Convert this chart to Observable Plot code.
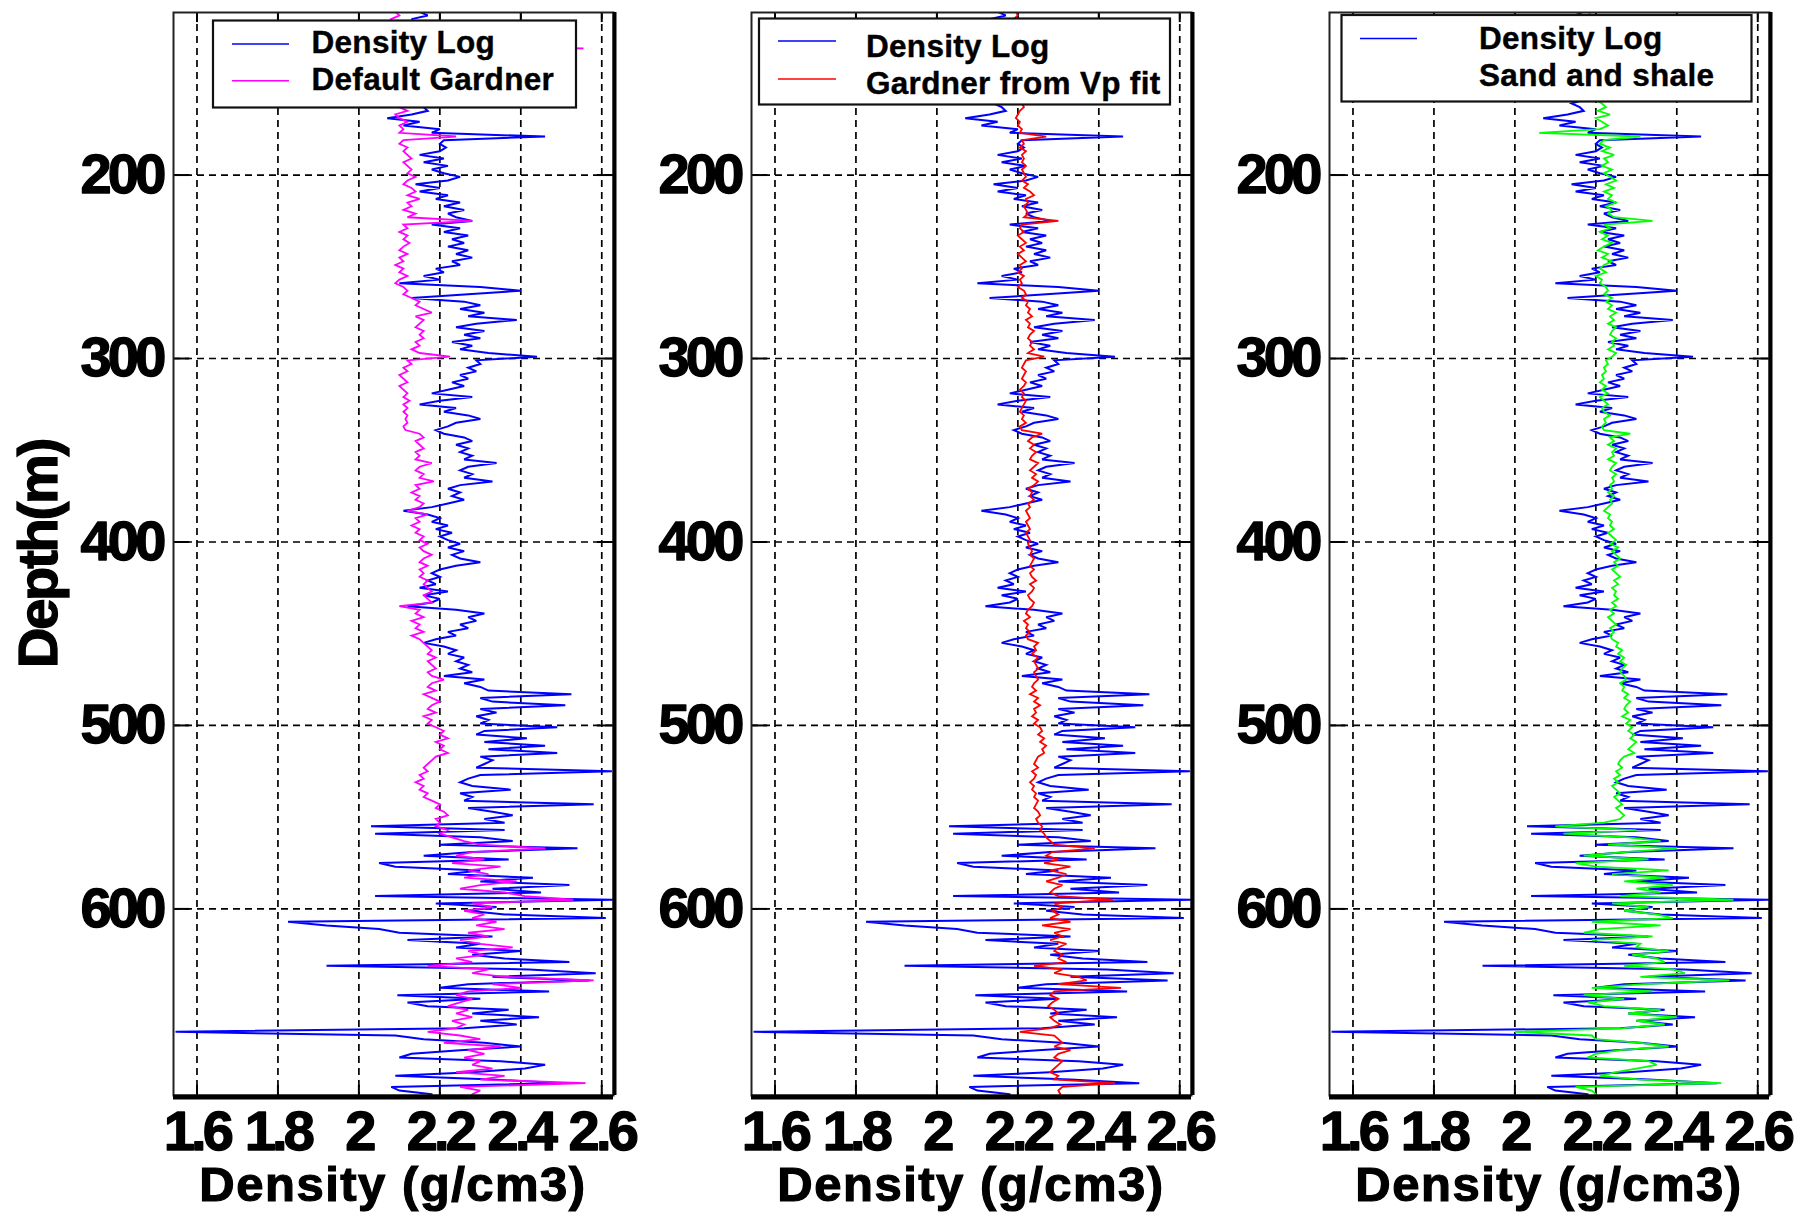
<!DOCTYPE html>
<html><head><meta charset="utf-8">
<script src="https://cdn.jsdelivr.net/npm/d3@7"></script>
<script src="https://cdn.jsdelivr.net/npm/@observablehq/plot@0.6"></script>
<style>
html,body{margin:0;padding:0;background:#fff;}
#wrap{position:relative;width:1808px;height:1212px;overflow:hidden;background:#fff;}
#wrap svg.panel{position:absolute;top:0;overflow:visible;background:transparent !important;max-width:none !important;}
#overlay{position:absolute;left:0;top:0;pointer-events:none;}
svg.panel g[aria-label$="tick label"] text{font-family:"Liberation Sans",Arial,sans-serif;font-weight:bold;font-size:56px;letter-spacing:-3.8px;fill:#000;stroke:#000;stroke-width:1.3px;stroke-linejoin:round;}
#overlay text{font-family:"Liberation Sans",Arial,sans-serif;font-weight:bold;fill:#000;}
</style>
</head><body>
<div id="wrap"></div>
<script>
// ---------------- data ----------------
const depth = d3.range(111, 702, 2);           // depth grid, m (111 ... 701)
const xTicks = [1.6, 1.8, 2, 2.2, 2.4, 2.6];
const yTicks = [200, 300, 400, 500, 600];
const xDomain = [1.542, 2.629];
const yDomain = [111.4, 701.7];

const densityLog = [
2.15,2.17,2.13,2.16,2.14,2.17,2.15,2.18,2.16,2.14,
2.17,2.15,2.16,2.13,2.17,2.15,2.18,2.14,2.16,2.15,
2.17,2.14,2.16,2.15,2.17,2.14,2.16,2.17,2.13,2.07,
2.15,2.11,2.20,2.18,2.46,2.21,2.20,2.215,2.20,2.15,
2.21,2.16,2.22,2.18,2.21,2.25,2.22,2.14,2.20,2.15,
2.22,2.19,2.25,2.21,2.26,2.22,2.24,2.28,2.18,2.25,
2.21,2.27,2.23,2.26,2.22,2.27,2.24,2.28,2.23,2.25,
2.19,2.21,2.16,2.20,2.10,2.30,2.40,2.27,2.13,2.26,
2.30,2.25,2.31,2.27,2.39,2.29,2.24,2.31,2.26,2.30,
2.23,2.28,2.25,2.32,2.44,2.29,2.30,2.27,2.29,2.25,
2.27,2.23,2.26,2.22,2.18,2.28,2.20,2.15,2.24,2.21,
2.27,2.30,2.24,2.22,2.19,2.21,2.26,2.28,2.24,2.27,
2.25,2.28,2.26,2.34,2.27,2.25,2.28,2.26,2.33,2.25,
2.22,2.25,2.23,2.26,2.22,2.18,2.11,2.17,2.20,2.18,
2.22,2.19,2.23,2.20,2.22,2.25,2.22,2.26,2.23,2.25,
2.30,2.24,2.20,2.18,2.20,2.17,2.19,2.15,2.22,2.16,
2.20,2.18,2.12,2.24,2.31,2.27,2.29,2.25,2.27,2.22,
2.24,2.19,2.16,2.21,2.24,2.22,2.26,2.24,2.27,2.25,
2.28,2.21,2.31,2.26,2.30,2.32,2.525,2.30,2.33,2.51,
2.30,2.34,2.29,2.32,2.30,2.49,2.31,2.29,2.415,2.31,
2.46,2.32,2.49,2.30,2.33,2.31,2.29,2.625,2.30,2.27,
2.25,2.28,2.375,2.25,2.28,2.26,2.58,2.27,2.33,2.38,
2.31,2.36,2.03,2.36,2.04,2.30,2.38,2.20,2.54,2.28,
2.16,2.37,2.05,2.09,2.30,2.22,2.43,2.30,2.52,2.33,
2.45,2.04,2.63,2.19,2.34,2.27,2.36,2.61,1.825,1.92,
2.05,2.10,2.33,2.12,2.30,2.24,2.40,2.28,2.36,2.52,
1.92,2.42,2.585,2.33,2.57,2.27,2.20,2.47,2.095,2.30,
2.12,2.17,2.37,2.28,2.445,2.30,2.39,2.26,1.547,2.09,
2.16,2.31,2.40,2.25,2.13,2.10,2.35,2.46,2.41,2.28,
2.09,2.33,2.50,2.08,2.10,2.18
];

const defaultGardner = [
2.09,2.10,2.08,2.10,2.09,2.11,2.10,2.09,2.11,2.10,
2.555,2.10,2.11,2.09,2.10,2.12,2.10,2.09,2.11,2.10,
2.12,2.10,2.09,2.11,2.10,2.11,2.10,2.12,2.09,2.10,
2.12,2.10,2.11,2.10,2.24,2.11,2.10,2.12,2.11,2.12,
2.13,2.11,2.12,2.13,2.12,2.14,2.12,2.11,2.13,2.14,
2.12,2.15,2.12,2.13,2.11,2.14,2.12,2.28,2.11,2.12,
2.10,2.12,2.11,2.125,2.11,2.10,2.12,2.10,2.11,2.09,
2.11,2.10,2.12,2.10,2.09,2.11,2.12,2.11,2.13,2.15,
2.14,2.16,2.18,2.14,2.16,2.15,2.14,2.16,2.15,2.16,
2.14,2.15,2.13,2.15,2.225,2.12,2.13,2.11,2.12,2.10,
2.11,2.12,2.10,2.11,2.12,2.11,2.125,2.11,2.12,2.11,
2.12,2.115,2.12,2.11,2.115,2.15,2.16,2.14,2.15,2.16,
2.14,2.15,2.14,2.18,2.15,2.14,2.16,2.15,2.185,2.14,
2.15,2.13,2.15,2.14,2.16,2.15,2.12,2.17,2.14,2.15,
2.13,2.15,2.14,2.16,2.15,2.17,2.15,2.16,2.18,2.16,
2.15,2.17,2.15,2.16,2.15,2.17,2.16,2.17,2.18,2.16,
2.17,2.18,2.10,2.15,2.14,2.16,2.13,2.15,2.14,2.16,
2.13,2.15,2.16,2.17,2.18,2.17,2.19,2.17,2.18,2.19,
2.17,2.18,2.21,2.18,2.17,2.19,2.16,2.18,2.20,2.18,
2.17,2.19,2.16,2.18,2.17,2.19,2.21,2.20,2.22,2.19,
2.21,2.20,2.22,2.19,2.18,2.17,2.16,2.17,2.15,2.16,
2.14,2.16,2.15,2.17,2.16,2.18,2.20,2.19,2.21,2.22,
2.19,2.20,2.19,2.22,2.20,2.23,2.26,2.30,2.46,2.28,
2.24,2.31,2.23,2.35,2.27,2.32,2.26,2.39,2.30,2.25,
2.36,2.41,2.53,2.28,2.33,2.26,2.31,2.28,2.34,2.29,
2.36,2.27,2.32,2.25,2.30,2.38,2.27,2.31,2.24,2.28,
2.17,2.32,2.28,2.36,2.58,2.33,2.40,2.27,2.24,2.28,
2.25,2.22,2.27,2.24,2.28,2.23,2.26,2.24,2.17,2.25,
2.30,2.21,2.35,2.27,2.31,2.26,2.30,2.28,2.33,2.24,
2.36,2.30,2.56,2.25,2.30,2.28
];

const gardnerVpFit = [
2.195,2.20,2.19,2.20,2.21,2.20,2.205,2.20,2.21,2.20,
2.205,2.21,2.20,2.21,2.205,2.20,2.21,2.205,2.21,2.20,
2.21,2.205,2.20,2.21,2.205,2.21,2.215,2.205,2.20,2.195,
2.205,2.20,2.21,2.205,2.27,2.21,2.215,2.205,2.22,2.21,
2.215,2.21,2.22,2.21,2.215,2.22,2.21,2.225,2.215,2.23,
2.24,2.22,2.225,2.215,2.22,2.225,2.215,2.30,2.21,2.205,
2.215,2.20,2.21,2.22,2.205,2.215,2.20,2.21,2.22,2.205,
2.21,2.20,2.215,2.205,2.21,2.20,2.215,2.22,2.21,2.225,
2.22,2.23,2.225,2.235,2.22,2.23,2.225,2.24,2.23,2.225,
2.235,2.23,2.24,2.225,2.265,2.22,2.215,2.21,2.22,2.215,
2.21,2.22,2.215,2.205,2.215,2.21,2.22,2.215,2.21,2.205,
2.215,2.21,2.22,2.205,2.21,2.26,2.235,2.225,2.24,2.23,
2.245,2.235,2.23,2.25,2.24,2.23,2.245,2.235,2.25,2.24,
2.225,2.235,2.23,2.24,2.225,2.23,2.22,2.225,2.23,2.22,
2.225,2.23,2.22,2.225,2.23,2.225,2.23,2.235,2.23,2.24,
2.235,2.23,2.24,2.23,2.235,2.245,2.23,2.24,2.235,2.225,
2.23,2.24,2.235,2.225,2.22,2.23,2.215,2.225,2.22,2.23,
2.22,2.225,2.25,2.24,2.245,2.235,2.25,2.24,2.245,2.25,
2.24,2.245,2.25,2.24,2.235,2.245,2.23,2.25,2.24,2.255,
2.24,2.245,2.235,2.25,2.24,2.255,2.26,2.25,2.265,2.255,
2.27,2.26,2.265,2.25,2.245,2.24,2.25,2.235,2.245,2.24,
2.23,2.24,2.235,2.245,2.24,2.25,2.245,2.24,2.25,2.255,
2.245,2.25,2.26,2.255,2.265,2.27,2.28,2.29,2.39,2.285,
2.27,2.30,2.265,2.33,2.28,2.32,2.30,2.27,2.31,2.29,
2.28,2.30,2.435,2.29,2.31,2.285,2.30,2.28,2.33,2.26,
2.33,2.29,2.31,2.28,2.32,2.30,2.29,2.31,2.30,2.32,
2.24,2.31,2.29,2.35,2.37,2.30,2.455,2.29,2.28,2.30,
2.285,2.275,2.29,2.30,2.28,2.29,2.305,2.28,2.205,2.29,
2.30,2.31,2.29,2.33,2.30,2.29,2.31,2.30,2.29,2.28,
2.30,2.29,2.44,2.31,2.30,2.305
];

const sandShale = [
2.18,2.19,2.175,2.19,2.20,2.19,2.20,2.21,2.195,2.20,
2.21,2.20,2.19,2.205,2.21,2.20,2.195,2.21,2.20,2.205,
2.21,2.20,2.195,2.21,2.20,2.215,2.225,2.205,2.235,2.20,
2.215,2.23,2.21,2.06,2.31,2.22,2.21,2.235,2.215,2.245,
2.22,2.23,2.215,2.24,2.22,2.235,2.25,2.225,2.245,2.22,
2.24,2.23,2.25,2.225,2.24,2.23,2.245,2.34,2.22,2.235,
2.21,2.23,2.215,2.24,2.22,2.205,2.23,2.215,2.24,2.22,
2.21,2.225,2.20,2.215,2.21,2.225,2.23,2.22,2.24,2.225,
2.24,2.23,2.25,2.235,2.245,2.23,2.25,2.24,2.235,2.25,
2.24,2.245,2.23,2.25,2.24,2.225,2.23,2.22,2.225,2.215,
2.22,2.21,2.225,2.215,2.23,2.21,2.22,2.23,2.215,2.22,
2.235,2.22,2.225,2.215,2.22,2.285,2.235,2.245,2.23,2.25,
2.24,2.245,2.23,2.25,2.24,2.235,2.25,2.24,2.245,2.235,
2.24,2.23,2.245,2.235,2.24,2.23,2.22,2.235,2.23,2.24,
2.235,2.245,2.23,2.24,2.25,2.235,2.255,2.24,2.25,2.26,
2.245,2.255,2.24,2.25,2.26,2.245,2.255,2.24,2.25,2.245,
2.255,2.24,2.25,2.235,2.245,2.23,2.24,2.25,2.235,2.245,
2.235,2.24,2.255,2.25,2.265,2.255,2.27,2.26,2.275,2.265,
2.26,2.27,2.275,2.26,2.27,2.265,2.28,2.27,2.285,2.275,
2.27,2.28,2.265,2.285,2.275,2.29,2.28,2.295,2.285,2.30,
2.29,2.28,2.295,2.27,2.26,2.255,2.265,2.25,2.26,2.245,
2.255,2.24,2.25,2.26,2.245,2.255,2.265,2.25,2.26,2.27,
2.26,2.22,2.10,2.30,2.12,2.28,2.36,2.23,2.40,2.27,
2.17,2.33,2.15,2.20,2.38,2.24,2.37,2.27,2.39,2.30,
2.36,2.26,2.54,2.24,2.33,2.27,2.35,2.39,2.19,2.36,
2.21,2.17,2.34,2.19,2.31,2.30,2.38,2.29,2.35,2.37,
2.27,2.39,2.42,2.31,2.53,2.32,2.19,2.34,2.17,2.27,
2.18,2.22,2.36,2.28,2.40,2.30,2.37,2.27,2.00,2.19,
2.20,2.31,2.38,2.26,2.20,2.18,2.33,2.35,2.30,2.25,
2.21,2.31,2.51,2.15,2.19,2.20
];

// ---------------- panels ----------------
const rows = depth.map((d, i) => ({
  depth: d, log: densityLog[i], gardner: defaultGardner[i], vpfit: gardnerVpFit[i], sandshale: sandShale[i]
}));

const panels = [
  {left: 0,    ml: 173, mr: 47, w: 660, key: "gardner",   color: "#ff00ff"},
  {left: 660,  ml: 91,  mr: 47, w: 578, key: "vpfit",     color: "#ff0000"},
  {left: 1238, ml: 91,  mr: 39, w: 570, key: "sandshale", color: "#00ff00"}
];

const wrap = document.getElementById("wrap");
const tickLenX = 0.04, tickLenY = 5.5;
const gridStyle = {stroke: "#000", strokeOpacity: 1, strokeWidth: 1.7, strokeDasharray: "7,5"};

panels.forEach(p => {
  const svg = Plot.plot({
    width: p.w, height: 1212,
    marginLeft: p.ml, marginRight: p.mr, marginTop: 12, marginBottom: 117,
    x: {domain: xDomain, axis: null},
    y: {domain: yDomain, reverse: true, axis: null},
    style: {background: "transparent", overflow: "visible"},
    marks: [
      Plot.gridX(xTicks, gridStyle),
      Plot.gridY(yTicks, gridStyle),
      Plot.ruleY(yTicks, {y: d => d, x1: () => xDomain[0], x2: () => xDomain[0] + tickLenX, stroke: "#000", strokeWidth: 2}),
      Plot.ruleY(yTicks, {y: d => d, x1: () => xDomain[1] - tickLenX, x2: () => xDomain[1], stroke: "#000", strokeWidth: 2}),
      Plot.ruleX(xTicks, {x: d => d, y1: () => yDomain[0], y2: () => yDomain[0] + tickLenY, stroke: "#000", strokeWidth: 2}),
      Plot.ruleX(xTicks, {x: d => d, y1: () => yDomain[1] - tickLenY, y2: () => yDomain[1], stroke: "#000", strokeWidth: 2}),
      Plot.line(rows, {x: "log", y: "depth", stroke: "#0000ff", strokeWidth: 2, strokeLinejoin: "miter", strokeMiterlimit: 3, clip: true}),
      Plot.line(rows, {x: p.key, y: "depth", stroke: p.color, strokeWidth: 1.8, strokeLinejoin: "miter", strokeMiterlimit: 3, clip: true}),
      Plot.frame({stroke: "#222", strokeWidth: 2}),
      Plot.ruleY([yDomain[1]], {y: d => d, stroke: "#000", strokeWidth: 5, dy: 1.5}),
      Plot.ruleX([xDomain[1]], {x: d => d, stroke: "#000", strokeWidth: 4, dx: 1}),
      Plot.axisX(xTicks, {anchor: "bottom", tickSize: 0, tickPadding: 15, tickFormat: d => String(d), label: null}),
      Plot.axisY(yTicks, {anchor: "left", tickSize: 0, tickPadding: 11, tickFormat: d => String(d), label: null})
    ]
  });
  svg.classList.add("panel");
  svg.style.left = p.left + "px";
  wrap.appendChild(svg);
});

// ---------------- overlay: legends and axis titles ----------------
const ov = d3.select(wrap).append("svg").attr("id", "overlay").attr("width", 1808).attr("height", 1212);

const legends = [
  {box: [213, 20.5, 363, 87], lx: [232, 289], tx: 311.5,
   items: [{label: "Density Log", color: "#0000ff", ly: 44, ty: 53.3}, {label: "Default Gardner", color: "#ff00ff", ly: 80.7, ty: 90}]},
  {box: [759, 18.5, 411, 86], lx: [778, 836], tx: 866,
   items: [{label: "Density Log", color: "#0000ff", ly: 41, ty: 56.5}, {label: "Gardner from Vp fit", color: "#ff0000", ly: 79, ty: 94}]},
  {box: [1341.5, 15, 410, 86.5], lx: [1360, 1417], tx: 1479,
   items: [{label: "Density Log", color: "#0000ff", ly: 38.5, ty: 48.5}, {label: "Sand and shale", color: null, ly: 0, ty: 86}]}
];

legends.forEach(L => {
  ov.append("rect").attr("x", L.box[0]).attr("y", L.box[1]).attr("width", L.box[2]).attr("height", L.box[3])
    .attr("fill", "#fff").attr("stroke", "#111").attr("stroke-width", 2.2);
  L.items.forEach(it => {
    if (it.color) ov.append("line").attr("x1", L.lx[0]).attr("x2", L.lx[1]).attr("y1", it.ly).attr("y2", it.ly)
      .attr("stroke", it.color).attr("stroke-width", 1.6);
    ov.append("text").attr("x", L.tx).attr("y", it.ty).attr("font-size", 31.5).attr("letter-spacing", 0.3)
      .attr("stroke", "#000").attr("stroke-width", 0.4).text(it.label);
  });
});

[393, 971, 1549].forEach(cx => {
  ov.append("text").attr("x", cx).attr("y", 1201).attr("text-anchor", "middle")
    .attr("font-size", 49).attr("letter-spacing", 1.5).attr("stroke", "#000").attr("stroke-width", 1.2)
    .text("Density (g/cm3)");
});

ov.append("text").attr("transform", "translate(57,554) rotate(-90)").attr("text-anchor", "middle")
  .attr("font-size", 56).attr("letter-spacing", -2.2).attr("stroke", "#000").attr("stroke-width", 1.3)
  .text("Depth(m)");
</script>
</body></html>
